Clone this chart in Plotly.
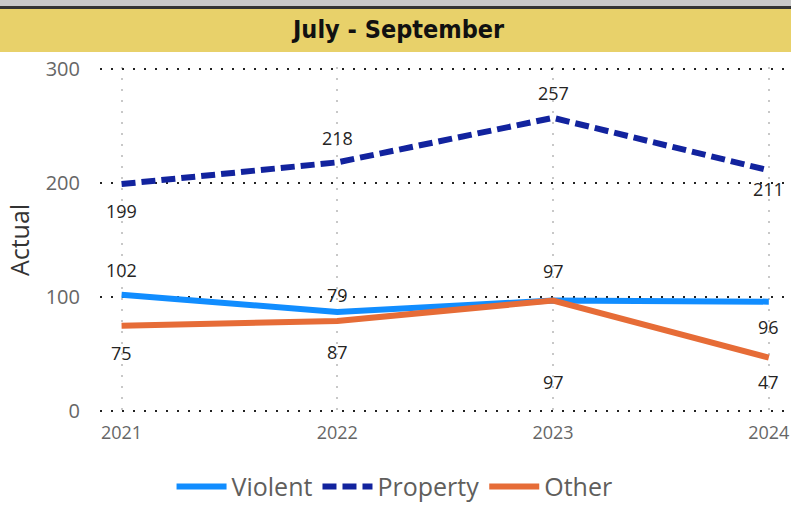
import plotly.graph_objects as go

# данные
years = [2021, 2022, 2023, 2024]
violent = [102, 87, 97, 96]
property_ = [199, 218, 257, 211]
other = [75, 79, 97, 47]
y_ticks = [0, 100, 200, 300]

title_text = "July - September"

# сдвиги подписей (пиксели), как в исходнике
violent_shift = [25, -40, 30, -25]
property_shift = [-27, 24, 25, -19]
other_shift = [-27, 26, -81, -24]

FONT = "Segoe UI, Open Sans, sans-serif"

fig = go.Figure()

series = [
    ("Violent", violent, dict(color="#118DFF", width=6), violent_shift),
    ("Property", property_, dict(color="#12239E", width=6, dash="14px,6px"), property_shift),
    ("Other", other, dict(color="#E66C37", width=6), other_shift),
]

for name, vals, line, shifts in series:
    fig.add_trace(go.Scatter(
        x=years, y=vals, name=name, mode="lines", line=line,
        hoverinfo="x+y+name",
    ))
    for x, v, s in zip(years, vals, shifts):
        fig.add_annotation(
            x=x, y=v, text=str(v), showarrow=False, yshift=s,
            font=dict(family=FONT, size=18, color="#252423"),
        )

# жёлтая полоса с заголовком и серая полоса сверху
fig.add_shape(type="rect", xref="paper", yref="paper", x0=-0.2, x1=1.1,
              yanchor=1, ysizemode="pixel", y0=15, y1=58,
              fillcolor="#E8D16A", line_width=0, layer="below")
fig.add_shape(type="rect", xref="paper", yref="paper", x0=-0.2, x1=1.1,
              yanchor=1, ysizemode="pixel", y0=61, y1=80,
              fillcolor="#C8C8C8", line_width=0, layer="below")
fig.add_shape(type="line", xref="paper", yref="paper", x0=-0.2, x1=1.1,
              yanchor=1, ysizemode="pixel", y0=59.5, y1=59.5,
              line=dict(color="#333333", width=3))
fig.add_annotation(
    xref="paper", yref="paper", x=0.435, y=1, yanchor="middle", yshift=38,
    text="<b>" + title_text + "</b>", showarrow=False,
    font=dict(family="DejaVu Sans Condensed, Liberation Sans Narrow, sans-serif",
              size=25, color="#111111"),
)

fig.update_layout(
    width=791, height=511,
    margin=dict(l=100, r=6, t=67, b=98, autoexpand=False),
    plot_bgcolor="white", paper_bgcolor="white",
    font=dict(family=FONT),
    legend=dict(orientation="h", xanchor="center", x=0.43, yanchor="middle", y=-0.213,
                font=dict(size=25, color="#605E5C"), itemwidth=50),
    xaxis=dict(
        range=[2020.9, 2024.075], tickvals=years, ticktext=[str(y) for y in years],
        showgrid=True, gridcolor="#C8C8C8", gridwidth=2, griddash="2px,9px",
        zeroline=False, showline=False, automargin=False,
        ticks="outside", ticklen=3, tickcolor="rgba(0,0,0,0)",
        tickfont=dict(size=18, color="#666666"),
    ),
    yaxis=dict(
        range=[-1.5, 301.5], tickvals=y_ticks,
        showgrid=True, gridcolor="#222222", gridwidth=2, griddash="2px,9px",
        zeroline=False, showline=False, automargin=False,
        ticks="outside", ticklen=15, tickcolor="rgba(0,0,0,0)",
        tickfont=dict(size=20, color="#666666"),
        title=dict(text="Actual", font=dict(size=25, color="#333333"), standoff=8),
    ),
)

# убираем отступ body, чтобы график начинался с (0, 0)
fig.write_html("out.html", config={"displayModeBar": False},
               post_script="document.body.style.margin='0';")
